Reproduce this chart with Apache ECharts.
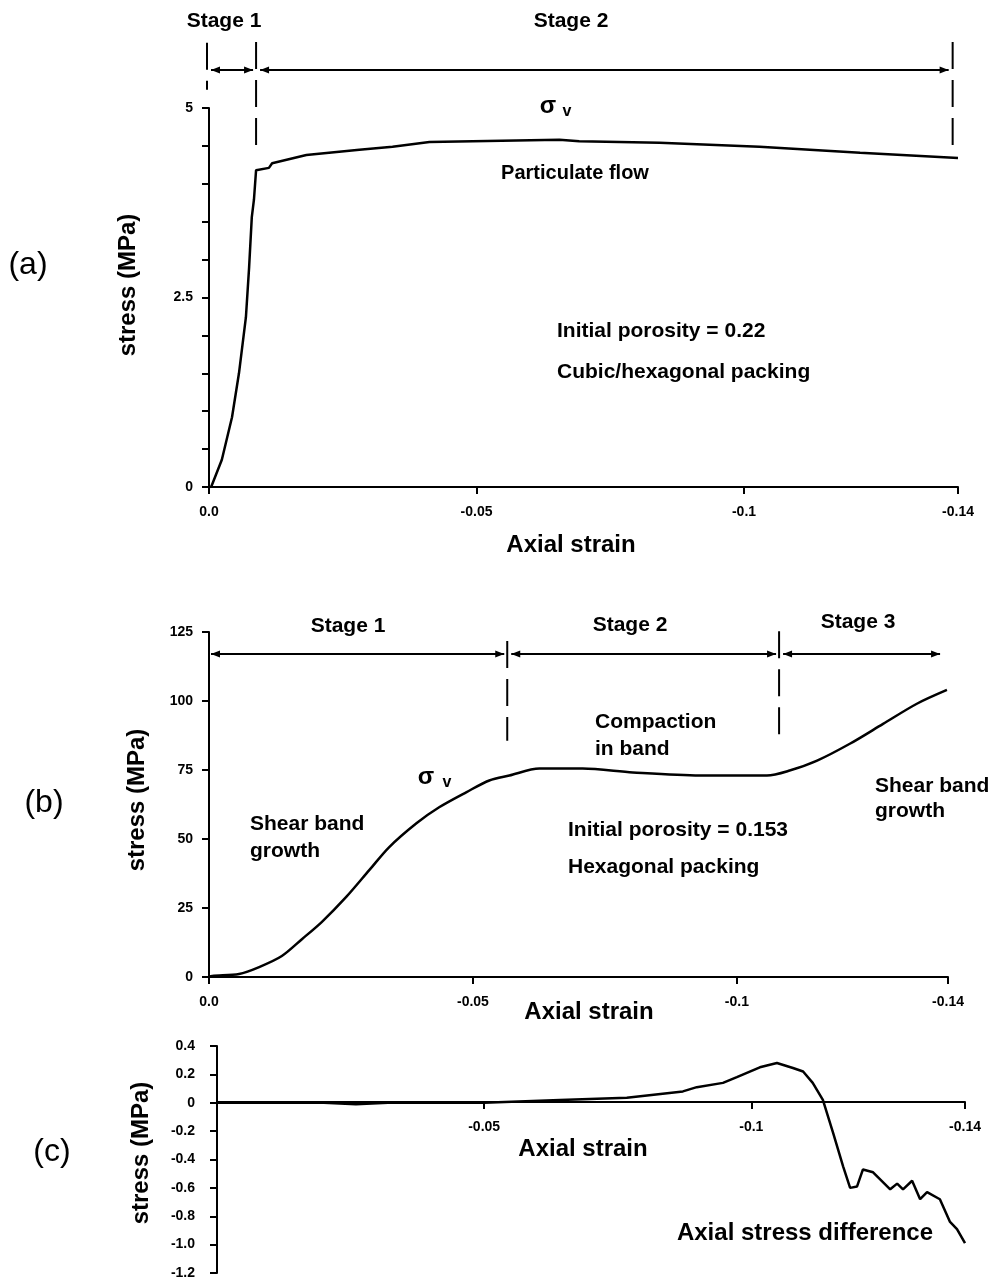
<!DOCTYPE html>
<html>
<head>
<meta charset="utf-8">
<script src="https://cdn.jsdelivr.net/npm/echarts@6.0.0/dist/echarts.min.js"></script>
<style>
  html, body { margin: 0; padding: 0; background: #fff; }
  #chart { width: 995px; height: 1280px; }
</style>
</head>
<body>
<div id="chart"></div>
<script>
const FONT = '"Liberation Sans", Arial, sans-serif';

// (a) porosity 0.22, cubic/hexagonal packing
const strainA = [0, -0.0004, -0.0024, -0.0043, -0.0056, -0.0069, -0.0075, -0.008, -0.0084, -0.0088,
  -0.0112, -0.0118, -0.0182, -0.0281, -0.0343, -0.0412, -0.0655, -0.0692, -0.0842, -0.1029, -0.1217, -0.14];
const stressA = [0, 0, 0.36, 0.92, 1.5, 2.24, 2.9, 3.56, 3.79, 4.18,
  4.21, 4.27, 4.38, 4.45, 4.49, 4.55, 4.58, 4.56, 4.54, 4.49, 4.41, 4.34];

// (b) porosity 0.153, hexagonal packing
const strainB = [0, -0.0006, -0.0057, -0.0095, -0.0138, -0.0176, -0.0214, -0.026, -0.0304, -0.0341,
  -0.0393, -0.0436, -0.0488, -0.0531, -0.0569, -0.0626, -0.0708, -0.0803, -0.093, -0.1057,
  -0.11, -0.1152, -0.1214, -0.1277, -0.1341, -0.1398];
const stressB = [0, 0.4, 1.1, 3.6, 7.6, 13.7, 20, 29, 38.8, 47,
  55.7, 61.5, 67, 71.2, 73, 75.5, 75.5, 74.1, 73, 73,
  74.8, 78.4, 84.5, 91.7, 99, 104];

// (c) axial stress difference
const strainC = [0, -0.02, -0.026, -0.032, -0.05, -0.0642, -0.0767, -0.0872, -0.0898, -0.0947,
  -0.0973, -0.1016, -0.1048, -0.1078, -0.1097, -0.1115, -0.1134, -0.1153, -0.1172, -0.1185,
  -0.1198, -0.1209, -0.1228, -0.126, -0.1273, -0.1284, -0.1301, -0.1316, -0.1329, -0.1353,
  -0.1372, -0.1385, -0.14];
const stressC = [0, 0, -0.01, 0, 0, 0.02, 0.035, 0.08, 0.11, 0.14,
  0.18, 0.25, 0.28, 0.245, 0.22, 0.14, 0.02, -0.21, -0.45, -0.6,
  -0.59, -0.47, -0.49, -0.61, -0.57, -0.61, -0.55, -0.68, -0.63, -0.68,
  -0.84, -0.89, -0.99];

const xTicksAB = [0, -0.05, -0.1, -0.14];
const xTicksC = [-0.05, -0.1, -0.14];
const yLabelsA = [0, 2.5, 5];
const yRangeC = [-1.2, 0.4];

// stage boundaries (strain) and where the arrows sit (stress)
const stageEdgesA = [0, -0.0088, -0.139];
const stageEdgesB = [0, -0.0565, -0.108, -0.1385];
const arrowLevelA = 5.5;
const arrowLevelB = 117;

const chart = echarts.init(document.getElementById('chart'));

const gridC = { left: 217, top: 1046, width: 748, height: 228 };
// move (c)'s strain axis (line, ticks and labels) up to stress = 0
const zeroOffsetC = -(0 - yRangeC[0]) / (yRangeC[1] - yRangeC[0]) * gridC.height;

const line = { color: '#000', width: 2 };
function xAxis(grid, ticks, offset) {
  return {
    type: 'value', gridIndex: grid, min: -0.14, max: 0, inverse: true,
    offset: offset || 0,
    axisLine: { onZero: false, lineStyle: line },
    axisTick: { length: 7, lineStyle: line, customValues: ticks },
    axisLabel: {
      color: '#000', fontSize: 14, fontWeight: 'bold', fontFamily: FONT, margin: 18,
      customValues: ticks,
      formatter: v => v === 0 ? '0.0' : String(v)
    },
    splitLine: { show: false }
  };
}
function yAxis(grid, min, max, interval, fmt, margin) {
  return {
    type: 'value', gridIndex: grid, min: min, max: max, interval: interval,
    axisLine: { show: true, lineStyle: line },
    axisTick: { show: true, length: 7, lineStyle: line },
    axisLabel: { color: '#000', fontSize: 14, fontWeight: 'bold', fontFamily: FONT, margin: margin, formatter: fmt },
    splitLine: { show: false }
  };
}
function curve(i, xs, ys, smooth) {
  return {
    type: 'line', xAxisIndex: i, yAxisIndex: i,
    data: xs.map((x, k) => [x, ys[k]]),
    symbol: 'none', lineStyle: { color: '#000', width: 2.5 },
    smooth: smooth
  };
}

chart.setOption({
  animation: false,
  backgroundColor: '#fff',
  grid: [
    { left: 209, top: 108, width: 749, height: 379 },
    { left: 209, top: 632, width: 739, height: 345 },
    gridC
  ],
  xAxis: [xAxis(0, xTicksAB), xAxis(1, xTicksAB), xAxis(2, xTicksC, zeroOffsetC)],
  yAxis: [
    yAxis(0, 0, 5, 0.5, v => yLabelsA.indexOf(v) >= 0 ? String(v) : '', 16),
    yAxis(1, 0, 125, 25, v => String(v), 16),
    yAxis(2, yRangeC[0], yRangeC[1], 0.2, v => Math.abs(v) < 1e-9 ? '0' : v.toFixed(1), 22)
  ],
  series: [curve(0, strainA, stressA, false), curve(1, strainB, stressB, 0.3), curve(2, strainC, stressC, false)]
});

// annotations
function P(g, x, y) { return chart.convertToPixel({ gridIndex: g }, [x, y]); }
function txt(text, x, y, size, o) {
  o = o || {};
  return {
    type: 'text', x: x, y: y, rotation: o.rot || 0,
    style: {
      text: text, fill: '#000', fontSize: size, fontWeight: o.weight || 'bold',
      fontFamily: FONT, align: o.align || 'center', verticalAlign: 'middle'
    }
  };
}
function arrow(x1, x2, y) {
  return [
    { type: 'line', shape: { x1: x1, y1: y, x2: x2, y2: y }, style: { stroke: '#000', lineWidth: 2 } },
    { type: 'polygon', shape: { points: [[x1, y], [x1 + 9, y - 3.5], [x1 + 9, y + 3.5]] }, style: { fill: '#000' } },
    { type: 'polygon', shape: { points: [[x2, y], [x2 - 9, y - 3.5], [x2 - 9, y + 3.5]] }, style: { fill: '#000' } }
  ];
}
function dash(x, y1, y2) {
  return { type: 'line', shape: { x1: x, y1: y1, x2: x, y2: y2 }, style: { stroke: '#000', lineWidth: 2, lineDash: [27, 11] } };
}

const g = [];
// panel a stages
const ya = P(0, 0, arrowLevelA)[1];
const ax = stageEdgesA.map(s => P(0, s, 0)[0]);
g.push(...arrow(ax[0] + 2, ax[1] - 3, ya), ...arrow(ax[1] + 4, ax[2] - 4, ya));
g.push(dash(ax[0] - 2, P(0, 0, 5.86)[1], P(0, 0, 5.24)[1]));
g.push(dash(ax[1], P(0, 0, 5.87)[1], P(0, 0, 4.51)[1]));
g.push(dash(ax[2], P(0, 0, 5.87)[1], P(0, 0, 4.51)[1]));
// panel b stages
const yb = P(1, 0, arrowLevelB)[1];
const bx = stageEdgesB.map(s => P(1, s, 0)[0]);
g.push(...arrow(bx[0] + 2, bx[1] - 3, yb), ...arrow(bx[1] + 4, bx[2] - 3, yb), ...arrow(bx[2] + 4, bx[3], yb));
g.push(dash(bx[1], P(1, 0, 121.7)[1], P(1, 0, 85.6)[1]));
g.push(dash(bx[2], P(1, 0, 125.3)[1], P(1, 0, 86.6)[1]));

g.push(
  txt('(a)', 28, 265, 32, { weight: 'normal' }),
  txt('stress (MPa)', 128, 285, 24, { rot: Math.PI / 2 }),
  txt('Stage 1', 224, 21, 21),
  txt('Stage 2', 571, 21, 21),
  txt('σ', 548, 106, 24),
  txt('v', 567, 112, 16),
  txt('Particulate flow', 575, 173, 20),
  txt('Initial porosity = 0.22', 557, 331, 21, { align: 'left' }),
  txt('Cubic/hexagonal packing', 557, 372, 21, { align: 'left' }),
  txt('Axial strain', 571, 545, 24),

  txt('(b)', 44, 803, 32, { weight: 'normal' }),
  txt('stress (MPa)', 137, 800, 24, { rot: Math.PI / 2 }),
  txt('Stage 1', 348, 626, 21),
  txt('Stage 2', 630, 625, 21),
  txt('Stage 3', 858, 622, 21),
  txt('Compaction', 595, 722, 21, { align: 'left' }),
  txt('in band', 595, 749, 21, { align: 'left' }),
  txt('σ', 426, 777, 24),
  txt('v', 447, 783, 16),
  txt('Shear band', 250, 824, 21, { align: 'left' }),
  txt('growth', 250, 851, 21, { align: 'left' }),
  txt('Shear band', 875, 786, 21, { align: 'left' }),
  txt('growth', 875, 811, 21, { align: 'left' }),
  txt('Initial porosity = 0.153', 568, 830, 21, { align: 'left' }),
  txt('Hexagonal packing', 568, 867, 21, { align: 'left' }),
  txt('Axial strain', 589, 1012, 24),

  txt('(c)', 52, 1152, 32, { weight: 'normal' }),
  txt('stress (MPa)', 141, 1153, 24, { rot: Math.PI / 2 }),
  txt('Axial strain', 583, 1149, 24),
  txt('Axial stress difference', 805, 1233, 24)
);

chart.setOption({ graphic: g });
</script>
</body>
</html>
